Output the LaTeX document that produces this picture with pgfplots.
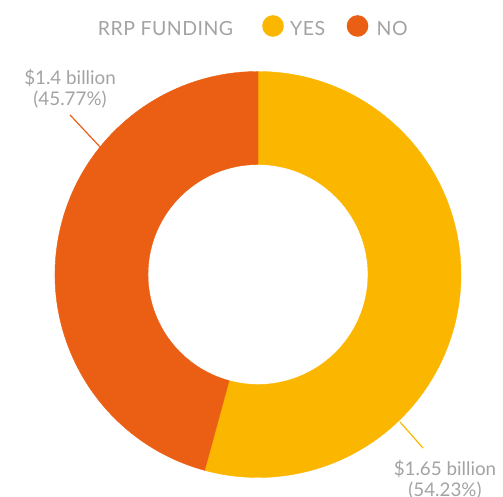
\documentclass[border=0pt]{standalone}
\usepackage{pgfplots}
\pgfplotsset{compat=1.18}
\usepackage{pgfplotstable}
\usepackage{fontspec}
\setmainfont{Lato}
\newfontfamily\legfont[LetterSpace=2.5]{Lato}
\definecolor{yescol}{HTML}{FBB600}
\definecolor{nocol}{HTML}{EB5F14}
\colorlet{slice0}{yescol}
\colorlet{slice1}{nocol}
\definecolor{txtgray}{HTML}{A3A3A3}

% share of RRP funding, cum = percent already used before the slice
\pgfplotstableread{
x y pct cum idx
0 0 54.23 0     0
0 0 45.77 54.23 1
}\funding

\newcommand\Rout{203bp}
\newcommand\Rin{110bp}

\begin{document}
\begin{tikzpicture}[x=1bp,y=1bp]
\path[use as bounding box] (0,0) rectangle (503,497);
\begin{axis}[
  at={(258bp,222.5bp)}, anchor=center,
  width=406bp, height=406bp, scale only axis,
  xmin=-1, xmax=1, ymin=-1, ymax=1,
  hide axis, clip=false,
  font=\fontsize{18.8bp}{21bp}\selectfont,
]
\addplot[scatter, only marks, mark=*, mark size=0pt,
  visualization depends on={90-3.6*\thisrow{cum} \as \startang},
  visualization depends on={3.6*\thisrow{pct} \as \sweep},
  visualization depends on={\thisrow{idx} \as \idx},
  scatter/@pre marker code/.code={
    \pgfmathtruncatemacro\k{\idx}
    \fill[slice\k] (\startang:\Rout)
      arc[start angle=\startang, delta angle=-\sweep, radius=\Rout]
      -- (\startang-\sweep:\Rin)
      arc[start angle=\startang-\sweep, delta angle=\sweep, radius=\Rin]
      -- cycle;
  },
  scatter/@post marker code/.code={},
] table[x=x, y=y] {\funding};

% leader lines
\addplot[nocol, line width=1.2pt] coordinates {(-0.926,0.786) (-0.778,0.628)};
\addplot[yescol, line width=1.2pt] coordinates {(0.700,-0.727) (0.813,-0.855)};

\node[txtgray, align=center] at (axis cs:-0.926,0.914) {\$1.4 billion\\(45.77\%)};
\node[txtgray, align=center] at (axis cs:0.921,-1.012) {\$1.65 billion\\(54.23\%)};
\end{axis}

% legend
\begin{scope}[font=\legfont\fontsize{19.5bp}{21bp}\selectfont, text=txtgray]
\node at (165.5,468.5) {RRP FUNDING};
\fill[yescol] (273,471) circle[radius=10.8];
\node[anchor=west, inner sep=0pt] at (290,468.5) {YES};
\fill[nocol] (357.5,471) circle[radius=10.8];
\node[anchor=west, inner sep=0pt] at (376.5,468.5) {NO};
\end{scope}
\end{tikzpicture}
\end{document}
